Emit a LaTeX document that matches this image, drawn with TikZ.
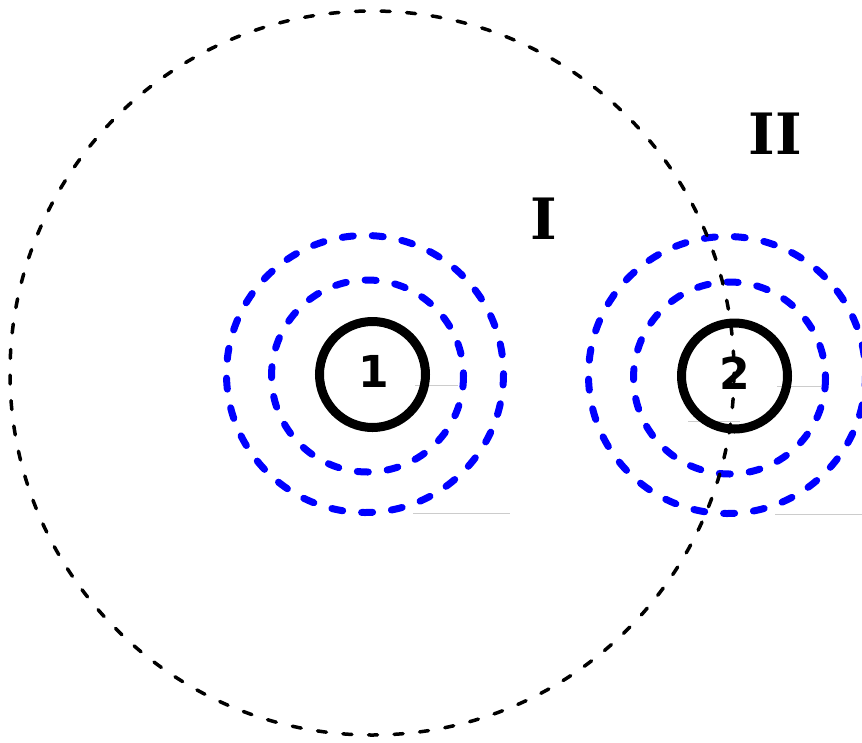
\documentclass[tikz,border=0pt]{standalone}
\usepackage{fontspec}
\setmainfont{DejaVu Serif}
\newfontfamily\numfont{DejaVu Sans}
\begin{document}
\begin{tikzpicture}[x=1pt,y=-1pt,
  orbit/.style={draw=blue,line width=7pt,line cap=round,dash pattern=on 11pt off 19pt},
  core/.style={circle,draw=black,line width=9pt,minimum size=106pt,inner sep=0pt},
  digit/.style={font=\numfont\bfseries\fontsize{44}{44}\selectfont,inner sep=0pt},
  region/.style={draw=black,line width=3.5pt,line cap=round,dash pattern=on 9pt off 16.6pt},
  guide/.style={draw=black!20,line width=1pt},
  roman/.style={font=\bfseries\fontsize{57}{60}\selectfont,inner sep=0pt}]
\useasboundingbox (0,0) rectangle (862,742);
\fill[white] (0,0) rectangle (862,742);
% guide lines
\coordinate (g1a) at (415,385); \coordinate (g1b) at (458,385);
\coordinate (g2a) at (413,513); \coordinate (g2b) at (510,513);
\coordinate (g3a) at (777,386); \coordinate (g3b) at (821,386);
\coordinate (g4a) at (688,421); \coordinate (g4b) at (740,421);
\coordinate (g5a) at (775,514); \coordinate (g5b) at (862,514);
\draw[guide] (g1a) -- (g1b);
\draw[guide] (g2a) -- (g2b);
\draw[guide] (g3a) -- (g3b);
\draw[guide] (g4a) -- (g4b);
\draw[guide] (g5a) -- (g5b);
% orbits
\coordinate (o1i) at (367.5,376);
\coordinate (o1o) at (365,374);
\coordinate (o2i) at (729.5,378);
\coordinate (o2o) at (727,375);
\draw[orbit] (o1i) circle[radius=96];
\draw[orbit] (o1o) circle[radius=138.5];
\draw[orbit] (o2i) circle[radius=96];
\draw[orbit] (o2o) circle[radius=138.5];
% cores
\node[core] (n1) at (372.5,374.5) {};
\node[core] (n2) at (734.5,376) {};
\node[digit] (t1) at (373.5,371) {1};
\node[digit] (t2) at (735,373) {2};
% region
\draw[region] (372,373) circle[radius=362];
% labels
\node[roman] (lI) at (544,219) {I};
\node[roman] (lII) at (775,134) {II};
\end{tikzpicture}
\end{document}
